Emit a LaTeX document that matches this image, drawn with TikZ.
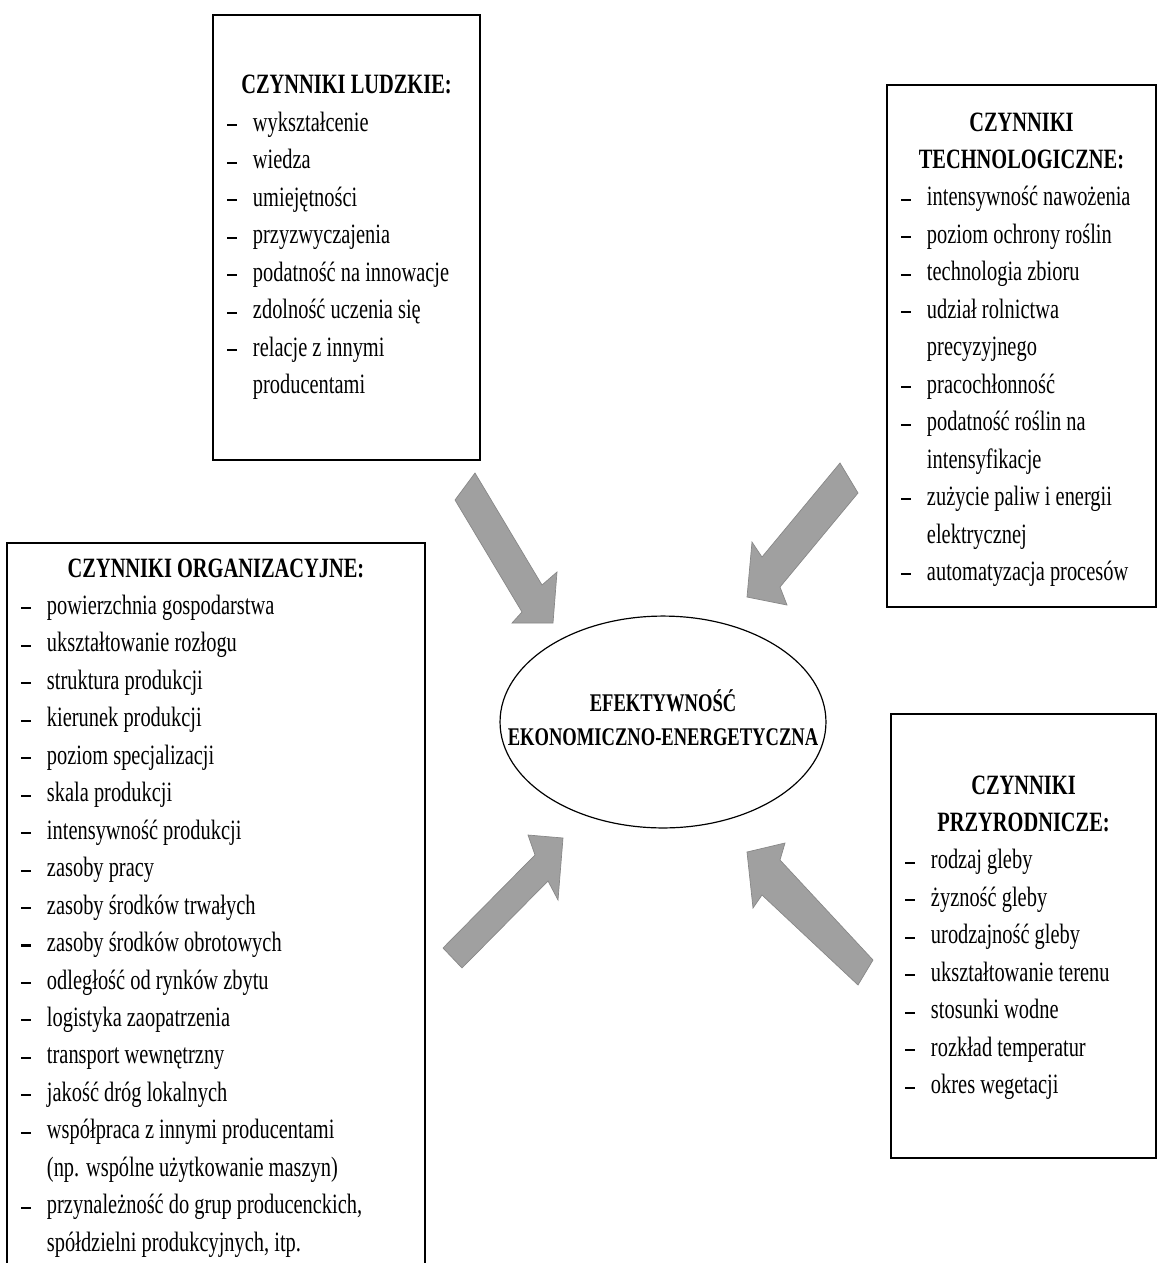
\documentclass[tikz,border=0pt]{standalone}
\usepackage{fontspec}
\setmainfont[FakeStretch=0.73]{Liberation Serif}
\usetikzlibrary{shapes.geometric,fit}
\definecolor{arrowgray}{RGB}{160,160,160}
\definecolor{arrowedge}{RGB}{135,135,135}
\newlength\dashw \setlength\dashw{17.1pt}
\newcommand\dashmark{\hspace*{1.8pt}\rule[3pt]{5.9pt}{1.2pt}}
\newcommand\dl[1]{\makebox[\dashw][l]{\dashmark}#1\par}
\newcommand\cl[1]{\hspace*{\dashw}#1\par}
\newcommand\hd[1]{\makebox[\linewidth]{\bfseries #1}\par}
\newcommand\blk[2]{\parbox[t]{#1}{\fontsize{16.5}{22.1}\selectfont\setlength\parskip{0pt}#2}}
\begin{document}
\begin{tikzpicture}[x=0.59pt,y=-0.59pt,
  box/.style={draw=black, line width=0.9pt, inner sep=0pt},
  txt/.style={anchor=base west, inner sep=0pt, outer sep=0pt},
  blockarrow/.style={fill=arrowgray, draw=arrowedge, line width=0.4pt, line join=miter}]
\useasboundingbox (0,0) rectangle (1157,1263);
\fill[white] (0,0) rectangle (1157,1263);
\begin{scope}
\clip (0,0) rectangle (1157,1263);
% boxes
\node[box, fit={(213,15) (480,460)}] (ludz) {};
\node[box, fit={(887,85) (1156,607)}] (tech) {};
\node[box, fit={(7,543) (425,1300)}] (org) {};
\node[box, fit={(891,714) (1156,1158)}] (przy) {};
% texts
\node[txt] (tludz) at (224,94) {\blk{144.6pt}{%
\hd{CZYNNIKI LUDZKIE:}
\dl{wykształcenie}
\dl{wiedza}
\dl{umiejętności}
\dl{przyzwyczajenia}
\dl{podatność na innowacje}
\dl{zdolność uczenia się}
\dl{relacje z innymi}
\cl{producentami}}};
\node[txt] (ttech) at (898,131) {\blk{145.7pt}{%
\hd{CZYNNIKI}
\hd{TECHNOLOGICZNE:}
\dl{intensywność nawożenia}
\dl{poziom ochrony roślin}
\dl{technologia zbioru}
\dl{udział rolnictwa}
\cl{precyzyjnego}
\dl{pracochłonność}
\dl{podatność roślin na}
\cl{intensyfikacje}
\dl{zużycie paliw i energii}
\cl{elektrycznej}
\dl{automatyzacja procesów}}};
\node[txt] (torg) at (18,577) {\blk{233.6pt}{%
\hd{CZYNNIKI ORGANIZACYJNE:}
\dl{powierzchnia gospodarstwa}
\dl{ukształtowanie rozłogu}
\dl{struktura produkcji}
\dl{kierunek produkcji}
\dl{poziom specjalizacji}
\dl{skala produkcji}
\dl{intensywność produkcji}
\dl{zasoby pracy}
\dl{zasoby środków trwałych}
\dl{zasoby środków obrotowych}
\dl{odległość od rynków zbytu}
\dl{logistyka zaopatrzenia}
\dl{transport wewnętrzny}
\dl{jakość dróg lokalnych}
\dl{współpraca z innymi producentami}
\cl{(np. wspólne użytkowanie maszyn)}
\dl{przynależność do grup producenckich,}
\cl{spółdzielni produkcyjnych, itp.}}};
\node[txt] (tprzy) at (902,794) {\blk{143.4pt}{%
\hd{CZYNNIKI}
\hd{PRZYRODNICZE:}
\dl{rodzaj gleby}
\dl{żyzność gleby}
\dl{urodzajność gleby}
\dl{ukształtowanie terenu}
\dl{stosunki wodne}
\dl{rozkład temperatur}
\dl{okres wegetacji}}};
% central ellipse
\node[ellipse, draw=black, line width=0.7pt, minimum width=192.3pt, minimum height=125pt, inner sep=0pt] (eff) at (663,722) {};
\node[align=center, inner sep=0pt, font=\fontsize{15}{20}\selectfont\bfseries] (efftxt) at ([yshift=2.3pt]eff.center) {EFEKTYWNOŚĆ\\EKONOMICZNO-ENERGETYCZNA};
% block arrows
\draw[blockarrow] (475,473) -- (542,585) -- (557,572) -- (553,623) -- (512,623) -- (522,612) -- (455,500) -- cycle;
\draw[blockarrow] (840,463) -- (762,557) -- (752,542) -- (747,597) -- (787,605) -- (780,587) -- (858,493) -- cycle;
\draw[blockarrow] (443,948) -- (535,855) -- (528,835) -- (563,838) -- (558,900) -- (548,881) -- (462,968) -- cycle;
\draw[blockarrow] (873,960) -- (780,860) -- (785,843) -- (747,852) -- (753,908) -- (762,895) -- (858,985) -- cycle;
\end{scope}
\end{tikzpicture}
\end{document}
